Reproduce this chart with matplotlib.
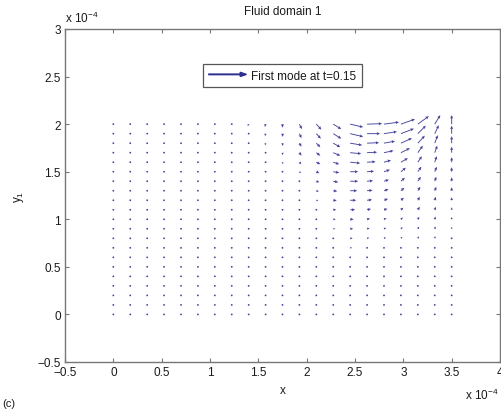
import numpy as np
import matplotlib
matplotlib.use("Agg")
import matplotlib.pyplot as plt
import matplotlib.patches as mpatches
from matplotlib.legend_handler import HandlerPatch
from matplotlib.ticker import FuncFormatter

plt.rcParams['font.family'] = ['Liberation Sans', 'DejaVu Sans']
plt.rcParams['mathtext.fontset'] = 'custom'
plt.rcParams['mathtext.rm'] = 'Liberation Sans'
plt.rcParams['mathtext.it'] = 'Liberation Sans:italic'
plt.rcParams['axes.unicode_minus'] = False

# grid of the fluid domain (m)
x_min, x_max, n_x = 0.0, 3.5e-4, 21
y_min, y_max, n_y = 0.0, 2.0e-4, 21

# velocity components of the first mode
# rows from top (y = 2e-4) to bottom (y = 0), columns from x = 0 to x = 3.5e-4
U_rows = [
    [0, 0, -0.2, -0.3, -0.4, -0.5, -0.6, -0.8, -1.0, -0.8, 0, 2.5, 5, 8, 13, 15, 15, 14, 11, 5.5, 0],
    [0, 0, -0.2, -0.3, -0.4, -0.5, -0.6, -0.7, -0.8, -0.6, 0.3, 2, 4.5, 8, 13, 13, 13, 13, 8, 4, 0],
    [0, 0, -0.2, -0.3, -0.3, -0.4, -0.5, -0.6, -0.7, -0.5, 0.3, 2, 4, 7, 12, 12, 11, 11, 7, 3, 0],
    [0, 0, -0.1, -0.2, -0.3, -0.4, -0.5, -0.5, -0.6, -0.4, 0.3, 2, 4, 7, 11, 10, 9.5, 9, 5, 2.5, 0],
    [0, 0, -0.1, -0.2, -0.3, -0.3, -0.4, -0.5, -0.5, -0.3, 0.3, 2, 4, 6, 10, 8.5, 7, 7, 4, 2, 0],
    [0, 0, -0.1, -0.2, -0.2, -0.3, -0.3, -0.4, -0.4, -0.2, 0.3, 1.5, 3, 6, 8, 7, 6, 5, 3.5, 2, 0],
    [0, 0, -0.1, -0.1, -0.2, -0.2, -0.3, -0.3, -0.3, -0.1, 0.3, 1.3, 3, 5, 8, 6, 5, 4, 3, 1.5, 0],
    [0, 0, 0, -0.1, -0.1, -0.2, -0.2, -0.2, -0.2, 0, 0.4, 1.2, 2.5, 4, 7, 5.5, 4.5, 3.5, 2.5, 1.5, 0],
    [0, 0, 0, -0.1, -0.1, -0.1, -0.1, -0.1, -0.1, 0.1, 0.4, 1, 2, 3.5, 6, 5, 4, 3, 2, 1, 0],
    [0, 0, 0, 0, -0.1, -0.1, -0.1, -0.1, 0, 0.1, 0.4, 0.8, 1.8, 3, 5, 4, 3.5, 2.5, 2, 1, 0],
    [0, 0, 0, 0, 0, 0, 0, 0, 0, 0.1, 0.4, 0.8, 1.5, 2.5, 3.5, 3, 2.5, 2, 1.5, 0.8, 0],
    [0, 0, 0, 0, 0, 0, 0, 0, 0.1, 0.2, 0.4, 0.7, 1.3, 2, 3, 2.5, 2.2, 1.8, 1.3, 0.7, 0],
    [0, 0, 0, 0, 0, 0, 0, 0, 0.1, 0.2, 0.4, 0.6, 1.1, 1.8, 2.5, 2.2, 2, 1.6, 1.2, 0.6, 0],
    [0, 0, 0, 0, 0, 0, 0, 0.1, 0.1, 0.2, 0.3, 0.5, 1, 1.5, 2, 1.8, 1.6, 1.3, 1, 0.5, 0],
    [0, 0, 0, 0, 0, 0, 0.1, 0.1, 0.1, 0.2, 0.3, 0.5, 0.8, 1.2, 1.6, 1.5, 1.3, 1.1, 0.8, 0.4, 0],
    [0, 0, 0, 0, 0, 0, 0.1, 0.1, 0.1, 0.2, 0.3, 0.4, 0.6, 1, 1.3, 1.2, 1.1, 0.9, 0.7, 0.3, 0],
    [0, 0, 0, 0, 0, 0, 0, 0.1, 0.1, 0.1, 0.2, 0.3, 0.5, 0.8, 1, 1, 0.9, 0.7, 0.5, 0.3, 0],
    [0, 0, 0, 0, 0, 0, 0, 0, 0.1, 0.1, 0.2, 0.2, 0.4, 0.6, 0.8, 0.8, 0.7, 0.6, 0.4, 0.2, 0],
    [0, 0, 0, 0, 0, 0, 0, 0, 0, 0.1, 0.1, 0.2, 0.3, 0.5, 0.6, 0.6, 0.5, 0.4, 0.3, 0.2, 0],
    [0, 0, 0, 0, 0, 0, 0, 0, 0, 0, 0.1, 0.1, 0.2, 0.3, 0.4, 0.4, 0.3, 0.3, 0.2, 0.1, 0],
    [0, 0, 0, 0, 0, 0, 0, 0, 0, 0, 0, 0.1, 0.1, 0.1, 0.1, 0.1, 0.1, 0.1, 0.1, 0, 0],
]
V_rows = [
    [-0.5, -0.5, -0.6, -0.8, -1.0, -1.2, -1.4, -1.6, -2.0, -2.8, -3.5, -5, -5.5, -5, -3, 0.5, 2, 5, 8, 9, 9],
    [-0.4, -0.4, -0.5, -0.7, -0.9, -1.1, -1.3, -1.5, -1.8, -2.5, -3.2, -4.5, -5, -5, -3, 0, 2, 5, 8, 8.5, 8],
    [-0.4, -0.4, -0.5, -0.6, -0.8, -1.0, -1.2, -1.4, -1.6, -2.2, -2.8, -3.5, -4, -4, -2, 0.5, 2, 5, 7.5, 8, 7],
    [-0.3, -0.3, -0.4, -0.5, -0.7, -0.9, -1.0, -1.2, -1.4, -1.9, -2.4, -3, -3, -3, -1, 0.5, 2, 4.5, 7, 7, 6],
    [-0.3, -0.3, -0.4, -0.5, -0.6, -0.8, -0.9, -1.0, -1.2, -1.6, -2.0, -2, -2, -2, -1, 0.5, 2, 4, 6, 6, 5],
    [-0.2, -0.2, -0.3, -0.4, -0.5, -0.6, -0.7, -0.8, -1.0, -1.3, -1.6, -1.5, -1.5, -1, 0, 0.5, 2, 4, 5, 5, 4.5],
    [-0.2, -0.2, -0.3, -0.3, -0.4, -0.5, -0.6, -0.7, -0.8, -1.0, -1.3, -1.2, -1, -1, 0, 0.5, 1.5, 3.5, 4.5, 4.5, 4],
    [-0.2, -0.2, -0.2, -0.3, -0.3, -0.4, -0.5, -0.5, -0.6, -0.8, -1.0, -1, -0.8, -0.5, 0, 0.5, 1.5, 3, 4, 4, 3.5],
    [-0.1, -0.1, -0.2, -0.2, -0.3, -0.3, -0.4, -0.4, -0.5, -0.6, -0.8, -0.8, -0.5, -0.3, 0, 0.5, 1.5, 2.5, 3.5, 3.5, 3],
    [-0.1, -0.1, -0.1, -0.2, -0.2, -0.2, -0.3, -0.3, -0.4, -0.5, -0.6, -0.6, -0.4, 0, 0, 0.8, 1, 2, 3, 3, 2.5],
    [-0.1, -0.1, -0.1, -0.1, -0.2, -0.2, -0.2, -0.2, -0.3, -0.4, -0.5, -0.5, -0.3, 0, 0, 0.8, 1.2, 1.8, 2.5, 2.8, 2.3],
    [-0.1, -0.1, -0.1, -0.1, -0.1, -0.2, -0.2, -0.2, -0.2, -0.3, -0.4, -0.4, -0.2, 0, 0, 0.7, 1, 1.6, 2.2, 2.5, 2],
    [0, -0.1, -0.1, -0.1, -0.1, -0.1, -0.1, -0.2, -0.2, -0.2, -0.3, -0.3, 0, 0, 0, 0.6, 1, 1.4, 2, 2.2, 1.8],
    [0, 0, -0.1, -0.1, -0.1, -0.1, -0.1, -0.1, -0.1, -0.2, -0.2, -0.2, 0, 0, 0, 0.5, 0.8, 1.2, 1.7, 1.9, 1.5],
    [0, 0, 0, -0.1, -0.1, -0.1, -0.1, -0.1, -0.1, -0.1, -0.2, -0.2, 0, 0, 0, 0.4, 0.7, 1, 1.4, 1.6, 1.3],
    [0, 0, 0, 0, -0.1, -0.1, -0.1, -0.1, -0.1, -0.1, -0.1, -0.1, 0, 0, 0, 0.3, 0.5, 0.8, 1.1, 1.3, 1.1],
    [0, 0, 0, 0, 0, 0, -0.1, -0.1, -0.1, -0.1, -0.1, -0.1, 0, 0, 0, 0.3, 0.4, 0.6, 0.9, 1, 0.9],
    [0, 0, 0, 0, 0, 0, 0, 0, -0.1, -0.1, -0.1, -0.1, 0, 0, 0, 0.2, 0.3, 0.5, 0.7, 0.8, 0.7],
    [0, 0, 0, 0, 0, 0, 0, 0, 0, 0, -0.1, 0, 0, 0, 0, 0.1, 0.2, 0.3, 0.5, 0.6, 0.5],
    [0, 0, 0, 0, 0, 0, 0, 0, 0, 0, 0, 0, 0, 0, 0, 0.1, 0.1, 0.2, 0.3, 0.4, 0.4],
    [0, 0, 0, 0, 0, 0, 0, 0, 0, 0, 0, 0, 0, 0, 0, 0, 0, 0.1, 0.1, 0.2, 0.2],
]

x_ticks = [-0.5e-4, 0, 0.5e-4, 1e-4, 1.5e-4, 2e-4, 2.5e-4, 3e-4, 3.5e-4, 4e-4]
y_ticks = [-0.5e-4, 0, 0.5e-4, 1e-4, 1.5e-4, 2e-4, 2.5e-4, 3e-4]
legend_label = 'First mode at t=0.15'

arrow_col = '#2f2f92'
text_col = '#1a1a1a'

X, Y = np.meshgrid(np.linspace(x_min, x_max, n_x), np.linspace(y_min, y_max, n_y))
U = np.array(U_rows[::-1])
V = np.array(V_rows[::-1])

fig = plt.figure(figsize=(5.02, 4.10), dpi=100)
ax = fig.add_axes([65 / 502, 47 / 410, 435 / 502, 333 / 410])

q = ax.quiver(X, Y, U, V, color=arrow_col, units='dots', width=0.9,
              scale_units='dots', scale=1.0, angles='uv',
              headwidth=3.5, headlength=3.8, headaxislength=3.3,
              minlength=2.2, alpha=0.9, label=legend_label)

ax.set_xlim(-0.5e-4, 4e-4)
ax.set_ylim(-0.5e-4, 3e-4)
ax.set_xticks(x_ticks)
ax.set_yticks(y_ticks)
fmt = FuncFormatter(lambda v, _: ('%g' % round(v * 1e4, 2)).replace('-', '\u2212'))
ax.xaxis.set_major_formatter(fmt)
ax.yaxis.set_major_formatter(fmt)
ax.tick_params(direction='in', top=True, right=True, length=3, width=0.8,
               colors='#777777', labelcolor=text_col, labelsize=8.5)
ax.tick_params(axis='x', pad=3)
ax.tick_params(axis='y', pad=3)
for s in ax.spines.values():
    s.set_color('#777777')
    s.set_linewidth(1.0)

ax.set_title('Fluid domain 1', fontsize=8.5, color=text_col, pad=11)
ax.set_xlabel('x', fontsize=8.5, color=text_col, labelpad=4)
ax.set_ylabel('y$_1$', fontsize=8.5, color=text_col, labelpad=8)

ax.text(0.0, 1.02, 'x 10$^{\\mathregular{-4}}$', transform=ax.transAxes,
        fontsize=8.5, color=text_col, ha='left', va='baseline')
ax.text(0.92, -0.11, 'x 10$^{\\mathregular{-4}}$', transform=ax.transAxes,
        fontsize=8.5, color=text_col, ha='left', va='baseline')
fig.text(0.004, 1 / 410, '(c)', fontsize=8, color=text_col, ha='left', va='bottom')


def make_arrow(legend, orig_handle, xdescent, ydescent, width, height, fontsize):
    return mpatches.FancyArrow(0, height / 2, width, 0, width=0.4,
                               head_width=3.0, head_length=4.5,
                               length_includes_head=True)


handle = mpatches.FancyArrow(0, 0, 1, 0, color=arrow_col)
leg = ax.legend([handle], [legend_label], loc='upper center',
                bbox_to_anchor=(0.5, 0.912), fontsize=8.5,
                handler_map={mpatches.FancyArrow: HandlerPatch(patch_func=make_arrow)},
                fancybox=False, framealpha=1, edgecolor='#555555',
                handlelength=3.2, handletextpad=0.4, borderpad=0.45)
leg.get_frame().set_linewidth(0.9)
for t in leg.get_texts():
    t.set_color(text_col)

fig.savefig('out.png', dpi=100)
